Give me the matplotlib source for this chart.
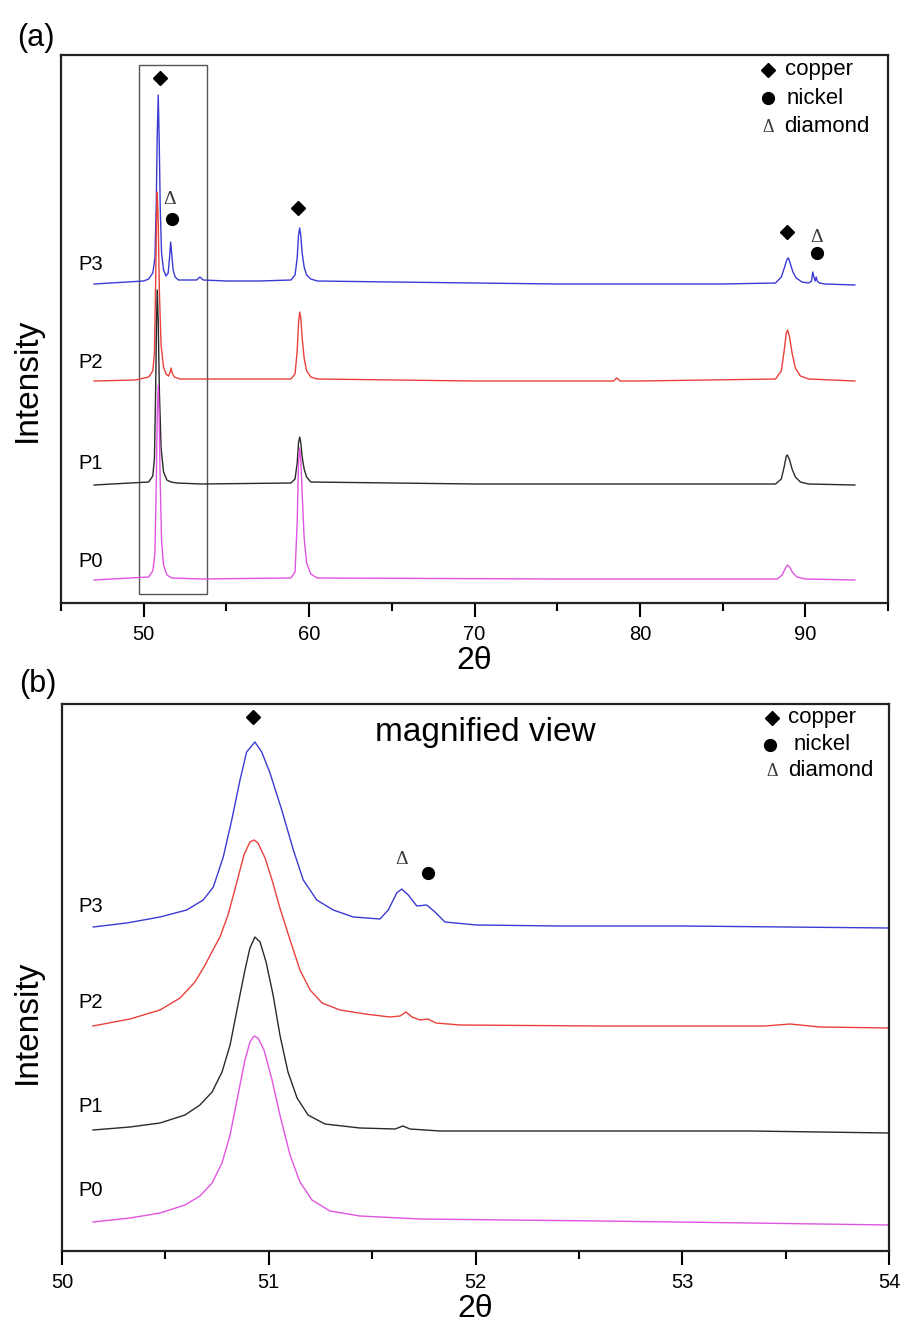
import matplotlib
matplotlib.use("Agg")
import matplotlib.pyplot as plt
from matplotlib.patches import Rectangle
from matplotlib.ticker import MultipleLocator

plt.rcParams['font.family'] = ['Liberation Sans', 'DejaVu Sans']

# ---------------- Panel (a) data: full scan (2theta, intensity a.u.) ----------------
a_p3_x = [47.0, 48.0, 49.0, 50.0, 50.3, 50.55, 50.68, 50.76, 50.82, 50.88, 50.94, 51.0, 51.08,
          51.2, 51.35, 51.48, 51.56, 51.63, 51.7, 51.78, 51.9, 52.1, 53.2, 53.4, 53.6, 55.0,
          57.0, 58.9, 59.15, 59.28, 59.36, 59.43, 59.5, 59.58, 59.7, 59.85, 60.1, 60.5, 65.0,
          70.0, 75.0, 80.0, 85.0, 88.2, 88.55, 88.75, 88.9, 88.98, 89.1, 89.25, 89.45, 89.8,
          90.2, 90.38, 90.45, 90.52, 90.6, 90.66, 90.72, 90.85, 91.2, 93.0]
a_p3_y = [319, 320, 321, 322, 324, 330, 345, 400, 470, 508, 460, 395, 350,
          333, 327, 330, 345, 361, 348, 333, 326, 323, 323, 326, 323, 322,
          322, 323, 328, 345, 368, 375, 367, 350, 336, 328, 324, 322, 321,
          320, 319, 319, 319, 320, 326, 336, 344, 345, 339, 331, 325, 321,
          320, 322, 331, 326, 322, 326, 322, 320, 319, 318]

a_p2_x = [47.0, 49.5, 50.3, 50.55, 50.65, 50.72, 50.78, 50.82, 50.88, 50.95, 51.05, 51.2, 51.35,
          51.5, 51.6, 51.66, 51.72, 51.85, 52.2, 53.5, 58.9, 59.15, 59.28, 59.36, 59.43, 59.5,
          59.58, 59.7, 59.85, 60.1, 60.5, 70.0, 78.4, 78.6, 78.8, 80.0, 88.2, 88.55, 88.72,
          88.85, 88.93, 89.05, 89.2, 89.4, 89.7, 90.2, 93.0]
a_p2_y = [222, 223, 226, 232, 250, 320, 390, 411, 380, 310, 258, 236, 229,
          227, 231, 235, 230, 226, 224, 224, 224, 229, 252, 280, 291, 285,
          265, 245, 232, 226, 224, 222, 222, 225, 222, 222, 224, 232, 252,
          270, 273, 266, 250, 235, 227, 224, 222]

a_p1_x = [47.0, 50.3, 50.55, 50.65, 50.72, 50.78, 50.82, 50.88, 50.95, 51.05, 51.2, 51.4, 51.65,
          52.0, 53.5, 58.9, 59.15, 59.28, 59.36, 59.43, 59.5, 59.58, 59.7, 59.85, 60.1, 70.0,
          88.2, 88.55, 88.72, 88.85, 88.92, 89.05, 89.2, 89.4, 89.7, 90.2, 93.0]
a_p1_y = [118, 121, 127, 145, 210, 285, 313, 280, 210, 155, 131, 123, 121,
          120, 119, 120, 124, 140, 160, 166, 160, 146, 134, 126, 121, 119,
          119, 124, 136, 147, 148, 143, 134, 126, 121, 119, 118]

a_p0_x = [47.0, 50.3, 50.55, 50.68, 50.76, 50.82, 50.88, 50.94, 51.0, 51.08, 51.2, 51.4, 51.7,
          53.5, 58.9, 59.15, 59.28, 59.36, 59.43, 59.5, 59.58, 59.7, 59.85, 60.1, 60.5, 75.0,
          88.3, 88.6, 88.8, 88.92, 89.05, 89.25, 89.5, 90.0, 93.0]
a_p0_y = [23, 26, 32, 50, 120, 190, 218, 180, 120, 62, 38, 28, 25,
          24, 25, 31, 80, 140, 155, 143, 110, 65, 40, 29, 25, 24,
          24, 28, 35, 38, 36, 30, 26, 24, 23]

# ---------------- Panel (b) data: magnified view ----------------
b_p3_x = [50.151, 50.313, 50.474, 50.603, 50.683, 50.732, 50.780, 50.821, 50.861, 50.893, 50.933,
          50.966, 51.006, 51.063, 51.119, 51.167, 51.232, 51.312, 51.409, 51.538, 51.578,
          51.619, 51.643, 51.675, 51.716, 51.764, 51.804, 51.852, 52.006, 52.409, 53.0,
          53.5, 54.0]
b_p3_y = [324, 328, 334, 341, 351, 364, 394, 431, 471, 499, 509,
          499, 478, 441, 401, 371, 351, 341, 334, 332, 341,
          358, 362, 356, 345, 346, 339, 329, 326, 325, 325,
          324, 323]

b_p2_x = [50.150, 50.329, 50.474, 50.571, 50.643, 50.692, 50.730, 50.764, 50.803, 50.842, 50.880,
          50.909, 50.929, 50.948, 50.982, 51.016, 51.054, 51.103, 51.151, 51.200, 51.258,
          51.345, 51.466, 51.586, 51.635, 51.664, 51.693, 51.732, 51.770, 51.809, 51.925,
          52.602, 53.40, 53.521, 53.666, 54.0]
b_p2_y = [225, 232, 241, 253, 269, 286, 301, 314, 336, 366, 396,
          409, 411, 408, 393, 371, 343, 311, 281, 261, 248,
          241, 237, 234, 235, 239, 234, 231, 232, 228, 226,
          225, 225, 227, 224, 223]

b_p1_x = [50.150, 50.329, 50.474, 50.595, 50.667, 50.726, 50.774, 50.813, 50.851, 50.885, 50.909,
          50.933, 50.958, 50.987, 51.021, 51.054, 51.093, 51.137, 51.190, 51.272, 51.441,
          51.611, 51.649, 51.683, 51.828, 52.602, 53.328, 54.0]
b_p1_y = [121, 124, 128, 136, 146, 159, 179, 206, 246, 281, 303,
          314, 309, 289, 256, 216, 179, 153, 136, 127, 123,
          122, 125, 122, 120, 120, 120, 118]

b_p0_x = [50.150, 50.329, 50.474, 50.595, 50.667, 50.726, 50.774, 50.813, 50.851, 50.885, 50.909,
          50.929, 50.948, 50.977, 51.016, 51.054, 51.103, 51.151, 51.209, 51.296, 51.441,
          51.732, 52.602, 53.328, 54.0]
b_p0_y = [29, 33, 38, 46, 55, 68, 88, 116, 156, 191, 209,
          215, 213, 201, 171, 136, 96, 69, 51, 40, 35,
          32, 30, 28, 26]

sample_labels = ['P3', 'P2', 'P1', 'P0']
legend_labels = ['copper', 'nickel', 'diamond']
colors = ['#3b3bd4', '#e8413c', '#2a2a2a', '#e055e0']

W, H = 904, 1324
fig = plt.figure(figsize=(W / 100, H / 100), dpi=100)

ax1 = fig.add_axes([61 / W, 1 - 603 / H, 827 / W, 548 / H])
ax2 = fig.add_axes([62 / W, 1 - 1251 / H, 827 / W, 547 / H])

for xs, ys, c in zip([a_p3_x, a_p2_x, a_p1_x, a_p0_x], [a_p3_y, a_p2_y, a_p1_y, a_p0_y], colors):
    ax1.plot(xs, ys, color=c, lw=1.0)
for xs, ys, c in zip([b_p3_x, b_p2_x, b_p1_x, b_p0_x], [b_p3_y, b_p2_y, b_p1_y, b_p0_y], colors):
    ax2.plot(xs, ys, color=c, lw=1.0)

ax1.set_xlim(45, 95)
ax1.set_ylim(0, 548)
ax2.set_xlim(50, 54)
ax2.set_ylim(0, 547)

for ax, maj, mnr in [(ax1, 10, 5), (ax2, 1, 0.5)]:
    ax.xaxis.set_major_locator(MultipleLocator(maj))
    ax.xaxis.set_minor_locator(MultipleLocator(mnr))
    ax.set_yticks([])
    ax.tick_params(axis='x', which='major', direction='out', length=10, width=1.5,
                   labelsize=14.5, pad=6)
    ax.tick_params(axis='x', which='minor', direction='out', length=6, width=1.5)
    for s in ax.spines.values():
        s.set_linewidth(1.6)
        s.set_color('#222222')
    ax.set_xlabel('2θ', fontsize=23, labelpad=1)

# box around the region magnified in (b)
ax1.add_patch(Rectangle((49.72, 9), 53.83 - 49.72, 538 - 9, fill=False,
                        edgecolor='#555555', lw=1.0))

# sample labels
for lab, y in zip(sample_labels, [338, 241, 140, 42]):
    ax1.text(46.8, y, lab, fontsize=14.5, ha='center', va='center')
for lab, y in zip(sample_labels, [344, 248, 145, 61]):
    ax2.text(50.14, y, lab, fontsize=14.5, ha='center', va='center')


def diamond(ax, x, y):
    ax.plot([x], [y], marker='D', ms=7.5, color='black', mec='black', ls='none')


def dot(ax, x, y):
    ax.plot([x], [y], marker='o', ms=8.5, color='black', ls='none')


def delta(ax, x, y, fs=14):
    ax.text(x, y, 'Δ', fontsize=fs, ha='center', va='center', color='#3a3a3a',
            family=['Liberation Serif', 'DejaVu Serif'])


# peak markers (a)
diamond(ax1, 50.99, 525)
delta(ax1, 51.59, 403)
dot(ax1, 51.71, 384)
diamond(ax1, 59.33, 395)
diamond(ax1, 88.89, 371)
delta(ax1, 90.71, 365)
dot(ax1, 90.71, 350)

# legend (a)
diamond(ax1, 87.75, 533)
dot(ax1, 87.75, 505)
delta(ax1, 87.75, 475, fs=13)
for lab, xx, y in zip(legend_labels, [88.77, 88.89, 88.71], [533, 505, 476]):
    ax1.text(xx, y, lab, fontsize=16, ha='left', va='center')

# peak markers (b)
diamond(ax2, 50.924, 534)
delta(ax2, 51.64, 391)
dot(ax2, 51.77, 378)

# legend (b)
diamond(ax2, 53.434, 533)
dot(ax2, 53.424, 506)
delta(ax2, 53.434, 479, fs=13)
for lab, xx, y in zip(legend_labels, [53.51, 53.536, 53.51], [534, 506, 480]):
    ax2.text(xx, y, lab, fontsize=16, ha='left', va='center')

ax2.text(51.514, 519, 'magnified view', fontsize=24, ha='left', va='center')

# panel letters and y labels
fig.text(36 / W, 1 - 38 / H, '(a)', fontsize=22, ha='center', va='center')
fig.text(38 / W, 1 - 684 / H, '(b)', fontsize=22, ha='center', va='center')
fig.text(27 / W, 1 - 380 / H, 'Intensity', fontsize=24, rotation=90, ha='center', va='center')
fig.text(27 / W, 1 - 1022 / H, 'Intensity', fontsize=24, rotation=90, ha='center', va='center')

fig.savefig('out.png', dpi=100)
